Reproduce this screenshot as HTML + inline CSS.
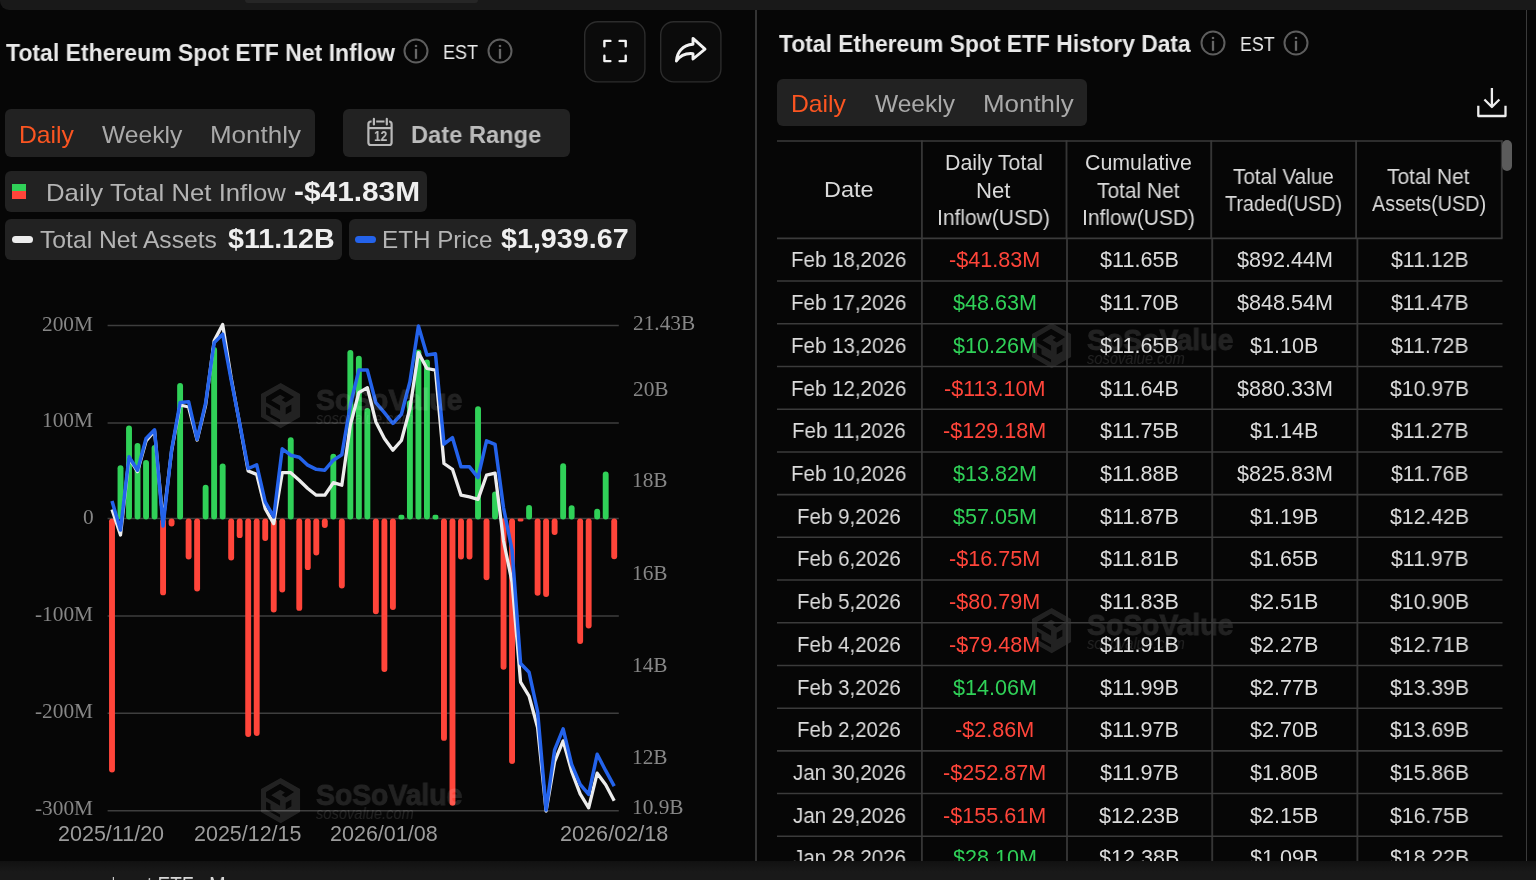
<!DOCTYPE html>
<html lang="en"><head><meta charset="utf-8"><title>Total Ethereum Spot ETF Net Inflow</title>
<style>
html,body{margin:0;padding:0}
body{width:1536px;height:880px;overflow:hidden;position:relative;background:#060606;font-family:'Liberation Sans', sans-serif}
.abs{position:absolute}
.t{position:absolute;white-space:pre;transform-origin:0 50%;display:block;will-change:transform}
.chip{background:#222;border-radius:6px}
.btn{width:57.6px;height:57.6px;border:2px solid #242424;border-radius:13px;background:#0c0c0c}
.wm{position:absolute;opacity:.115;width:210px;height:48px;pointer-events:none}
table{display:block;position:absolute;left:0;top:0;width:750px;height:740px;border-collapse:separate}
thead,tbody{display:block}
tr{display:block;position:absolute;left:0;width:750px}
thead tr{top:0}
th,td{display:block;position:absolute;box-sizing:border-box;padding:0;font-weight:400}
</style></head>
<body>
<div class="abs" style="left:0;top:0;width:1536px;height:10px;background:#191919;border-radius:0 0 0 9px"></div>
<div class="abs" style="left:245px;top:0;width:233px;height:3px;background:#262626;border-radius:0 0 4px 4px"></div>
<div class="abs" id="bottombar" style="left:0;top:861px;width:1536px;height:19px;background:linear-gradient(#111,#191919 11px);overflow:hidden"><span class="t" style="left:112.37px;top:12.98px;font:normal 400 24px/24px 'Liberation Sans', sans-serif;color:#d8d8d8;transform:scaleX(0.5333);">l</span><span class="t" style="left:147.30px;top:12.98px;font:normal 400 24px/24px 'Liberation Sans', sans-serif;color:#d8d8d8;transform:scaleX(0.7931);">t ETF</span><span class="t" style="left:209.37px;top:12.98px;font:normal 400 24px/24px 'Liberation Sans', sans-serif;color:#d8d8d8;transform:scaleX(0.8333);">M</span></div>
<div class="abs" style="left:755.2px;top:10px;width:1.6px;height:851px;background:#333"></div>
<div class="abs" style="left:1525.9px;top:10px;width:1.6px;height:851px;background:#3a3a3a"></div>
<section id="chart-panel">
<span class="t" style="left:5.50px;top:40.98px;font:normal 700 24px/24px 'Liberation Sans', sans-serif;color:#e9e9e9;transform:scaleX(0.9576);">Total Ethereum Spot ETF Net Inflow</span>
<svg class="abs" style="left:402.00px;top:37.10px" width="28" height="28" viewBox="-14 -14 28 28"><circle cx="0" cy="0" r="11.5" fill="none" stroke="#5e5e5e" stroke-width="2"/><rect x="-1.15" y="-6.1" width="2.3" height="2.2" fill="#676767"/><rect x="-1.15" y="-2.2" width="2.3" height="10" fill="#676767"/></svg>
<span class="t" style="left:443.40px;top:42.07px;font:normal 400 20px/20px 'Liberation Sans', sans-serif;color:#ececec;transform:scaleX(0.8997);">EST</span>
<svg class="abs" style="left:485.70px;top:37.10px" width="28" height="28" viewBox="-14 -14 28 28"><circle cx="0" cy="0" r="11.5" fill="none" stroke="#5e5e5e" stroke-width="2"/><rect x="-1.15" y="-6.1" width="2.3" height="2.2" fill="#676767"/><rect x="-1.15" y="-2.2" width="2.3" height="10" fill="#676767"/></svg>
<svg class="abs" style="left:583.4px;top:19.6px" width="64" height="64" viewBox="-1 -1 64 64"><rect x="0.7" y="0.7" width="60.2" height="60.2" rx="13" fill="#0b0b0b" stroke="#2c2c2c" stroke-width="1.4"/></svg>
<svg class="abs" style="left:659.0px;top:19.6px" width="64" height="64" viewBox="-1 -1 64 64"><rect x="0.7" y="0.7" width="60.2" height="60.2" rx="13" fill="#0b0b0b" stroke="#2c2c2c" stroke-width="1.4"/></svg>
<svg class="abs" style="left:601px;top:37px" width="28" height="28" viewBox="0 0 28 28" fill="none" stroke="#f2f2f2" stroke-width="2.4" stroke-linecap="round" stroke-linejoin="round"><path d="M3.4 9.2 V3.9 H9.4 M18.6 3.9 H24.7 V9.2 M24.7 18.8 V24.1 H18.6 M9.4 24.1 H3.4 V18.8"/></svg>
<svg class="abs" style="left:672px;top:35px" width="36" height="30" viewBox="0 0 36 30" fill="none" stroke="#f2f2f2" stroke-width="2.9" stroke-linejoin="round" stroke-linecap="round"><path d="M21 3.4 L33 14.2 L21 24 V18.6 C13 17.9 8 20.6 4.4 26 C5 17.6 10.2 10 21 9.2 Z"/></svg>
<div class="abs chip" style="left:5px;top:109.4px;width:310px;height:47.6px"></div>
<span class="t" style="left:18.77px;top:122.98px;font:normal 400 24px/24px 'Liberation Sans', sans-serif;color:#fb5521;transform:scaleX(1.0297);">Daily</span>
<span class="t" style="left:102.20px;top:122.98px;font:normal 400 24px/24px 'Liberation Sans', sans-serif;color:#a9a9a9;transform:scaleX(1.0275);">Weekly</span>
<span class="t" style="left:210.42px;top:122.98px;font:normal 400 24px/24px 'Liberation Sans', sans-serif;color:#a9a9a9;transform:scaleX(1.0815);">Monthly</span>
<div class="abs chip" style="left:342.5px;top:109.4px;width:227.5px;height:47.6px"></div>
<svg class="abs" style="left:360px;top:112px" width="40" height="40" viewBox="360 112 40 40" fill="none" stroke="#b9b9b9" stroke-width="2.2"><rect x="368.4" y="121.5" width="23.2" height="23.5" rx="2.6"/><path d="M368.4 128.1 H391.6"/><path d="M373.9 118 V125.2 M386.8 118 V125.2" stroke="#222" stroke-width="4.6"/><path d="M373.9 118.9 V124.4 M386.8 118.9 V124.4" stroke-linecap="round"/></svg>
<span class="t" style="left:373.70px;top:129.29px;font:normal 700 14.9px/14.9px 'Liberation Sans', sans-serif;color:#bdbdbd;transform:scaleX(0.7985);">12</span>
<span class="t" style="left:411.11px;top:122.98px;font:normal 700 24px/24px 'Liberation Sans', sans-serif;color:#bcbcbc;transform:scaleX(0.9863);">Date Range</span>
<div class="abs chip" style="left:4.8px;top:170.8px;width:422px;height:40.8px"></div>
<div class="abs" style="left:11.8px;top:184.3px;width:14.3px;height:7.2px;background:#30d158"></div>
<div class="abs" style="left:11.8px;top:191.4px;width:14.3px;height:7.3px;background:#ff453a"></div>
<span class="t" style="left:45.73px;top:181.18px;font:normal 400 24px/24px 'Liberation Sans', sans-serif;color:#b4b4b4;transform:scaleX(1.0726);">Daily Total Net Inflow</span>
<span class="t" style="left:294.33px;top:177.90px;font:normal 700 28px/28px 'Liberation Sans', sans-serif;color:#efefef;transform:scaleX(1.0658);">-$41.83M</span>
<div class="abs chip" style="left:4.8px;top:219.1px;width:336.8px;height:40.8px"></div>
<div class="abs" style="left:11.8px;top:235.6px;width:21px;height:7.5px;border-radius:4px;background:#ededed"></div>
<span class="t" style="left:40.40px;top:227.78px;font:normal 400 24px/24px 'Liberation Sans', sans-serif;color:#b4b4b4;transform:scaleX(1.0282);">Total Net Assets</span>
<span class="t" style="left:227.70px;top:225.40px;font:normal 700 28px/28px 'Liberation Sans', sans-serif;color:#efefef;transform:scaleX(1.0214);">$11.12B</span>
<div class="abs chip" style="left:348.5px;top:219.1px;width:287.5px;height:40.8px"></div>
<div class="abs" style="left:355.3px;top:235.6px;width:20.5px;height:7.5px;border-radius:4px;background:#2463eb"></div>
<span class="t" style="left:381.99px;top:227.78px;font:normal 400 24px/24px 'Liberation Sans', sans-serif;color:#b4b4b4;transform:scaleX(1.0093);">ETH Price</span>
<span class="t" style="left:501.00px;top:225.40px;font:normal 700 28px/28px 'Liberation Sans', sans-serif;color:#efefef;transform:scaleX(1.0243);">$1,939.67</span>
<svg class="abs" style="left:0;top:280px" width="756" height="581" viewBox="0 280 756 581">
<line x1="107.6" x2="618.8" y1="325.50" y2="325.50" stroke="#3e3e3e" stroke-width="1.5"/>
<line x1="107.6" x2="618.8" y1="422.95" y2="422.95" stroke="#3e3e3e" stroke-width="1.5"/>
<line x1="107.6" x2="618.8" y1="518.60" y2="518.60" stroke="#3e3e3e" stroke-width="1.5"/>
<line x1="107.6" x2="618.8" y1="615.95" y2="615.95" stroke="#3e3e3e" stroke-width="1.5"/>
<line x1="107.6" x2="618.8" y1="713.20" y2="713.20" stroke="#3e3e3e" stroke-width="1.5"/>
<line x1="107.6" x2="618.8" y1="810.85" y2="810.85" stroke="#3e3e3e" stroke-width="1.5"/>
<rect x="109.05" y="518.40" width="5.9" height="254.05" rx="2.95" fill="#ff453a"/>
<rect x="117.56" y="465.35" width="5.9" height="54.15" rx="2.95" fill="#30d158"/>
<rect x="126.07" y="425.58" width="5.9" height="93.92" rx="2.95" fill="#30d158"/>
<rect x="134.59" y="443.04" width="5.9" height="76.46" rx="2.95" fill="#30d158"/>
<rect x="143.10" y="460.02" width="5.9" height="59.48" rx="2.95" fill="#30d158"/>
<rect x="151.61" y="444.98" width="5.9" height="74.52" rx="2.95" fill="#30d158"/>
<rect x="160.12" y="518.40" width="5.9" height="76.93" rx="2.95" fill="#ff453a"/>
<rect x="168.63" y="518.40" width="5.9" height="8.06" rx="2.95" fill="#ff453a"/>
<rect x="177.15" y="382.90" width="5.9" height="136.60" rx="2.95" fill="#30d158"/>
<rect x="185.66" y="518.40" width="5.9" height="41.04" rx="2.95" fill="#ff453a"/>
<rect x="194.17" y="518.40" width="5.9" height="73.05" rx="2.95" fill="#ff453a"/>
<rect x="202.68" y="484.75" width="5.9" height="34.75" rx="2.95" fill="#30d158"/>
<rect x="211.19" y="347.01" width="5.9" height="172.49" rx="2.95" fill="#30d158"/>
<rect x="219.71" y="463.41" width="5.9" height="56.09" rx="2.95" fill="#30d158"/>
<rect x="228.22" y="518.40" width="5.9" height="42.01" rx="2.95" fill="#ff453a"/>
<rect x="236.73" y="518.40" width="5.9" height="19.70" rx="2.95" fill="#ff453a"/>
<rect x="245.24" y="518.40" width="5.9" height="218.55" rx="2.95" fill="#ff453a"/>
<rect x="253.75" y="518.40" width="5.9" height="217.58" rx="2.95" fill="#ff453a"/>
<rect x="262.27" y="518.40" width="5.9" height="22.61" rx="2.95" fill="#ff453a"/>
<rect x="270.78" y="518.40" width="5.9" height="94.00" rx="2.95" fill="#ff453a"/>
<rect x="279.29" y="518.40" width="5.9" height="74.02" rx="2.95" fill="#ff453a"/>
<rect x="287.80" y="437.22" width="5.9" height="82.28" rx="2.95" fill="#30d158"/>
<rect x="296.31" y="518.40" width="5.9" height="92.45" rx="2.95" fill="#ff453a"/>
<rect x="304.83" y="518.40" width="5.9" height="51.71" rx="2.95" fill="#ff453a"/>
<rect x="313.34" y="518.40" width="5.9" height="37.16" rx="2.95" fill="#ff453a"/>
<rect x="321.85" y="518.40" width="5.9" height="9.52" rx="2.95" fill="#ff453a"/>
<rect x="330.36" y="453.71" width="5.9" height="65.79" rx="2.95" fill="#30d158"/>
<rect x="338.87" y="518.40" width="5.9" height="70.14" rx="2.95" fill="#ff453a"/>
<rect x="347.39" y="349.92" width="5.9" height="169.58" rx="2.95" fill="#30d158"/>
<rect x="355.90" y="355.74" width="5.9" height="163.76" rx="2.95" fill="#30d158"/>
<rect x="364.41" y="408.12" width="5.9" height="111.38" rx="2.95" fill="#30d158"/>
<rect x="372.92" y="518.40" width="5.9" height="95.84" rx="2.95" fill="#ff453a"/>
<rect x="381.43" y="518.40" width="5.9" height="153.56" rx="2.95" fill="#ff453a"/>
<rect x="389.95" y="518.40" width="5.9" height="91.48" rx="2.95" fill="#ff453a"/>
<rect x="398.46" y="514.82" width="5.9" height="4.68" rx="1.94" fill="#30d158"/>
<rect x="406.97" y="400.36" width="5.9" height="119.14" rx="2.95" fill="#30d158"/>
<rect x="415.48" y="349.44" width="5.9" height="170.07" rx="2.95" fill="#30d158"/>
<rect x="423.99" y="359.62" width="5.9" height="159.88" rx="2.95" fill="#30d158"/>
<rect x="432.51" y="514.82" width="5.9" height="4.68" rx="1.94" fill="#30d158"/>
<rect x="441.02" y="518.40" width="5.9" height="222.43" rx="2.95" fill="#ff453a"/>
<rect x="449.53" y="518.40" width="5.9" height="287.42" rx="2.95" fill="#ff453a"/>
<rect x="458.04" y="518.40" width="5.9" height="41.04" rx="2.95" fill="#ff453a"/>
<rect x="466.55" y="518.40" width="5.9" height="41.04" rx="2.95" fill="#ff453a"/>
<rect x="475.07" y="406.18" width="5.9" height="113.32" rx="2.95" fill="#30d158"/>
<rect x="483.58" y="518.40" width="5.9" height="61.89" rx="2.95" fill="#ff453a"/>
<rect x="492.09" y="491.44" width="5.9" height="28.06" rx="2.95" fill="#30d158"/>
<rect x="500.60" y="518.40" width="5.9" height="151.24" rx="2.95" fill="#ff453a"/>
<rect x="509.11" y="518.40" width="5.9" height="245.58" rx="2.95" fill="#ff453a"/>
<rect x="517.63" y="518.40" width="5.9" height="3.07" rx="1.39" fill="#ff453a"/>
<rect x="526.14" y="505.06" width="5.9" height="14.44" rx="2.95" fill="#30d158"/>
<rect x="534.65" y="518.40" width="5.9" height="77.40" rx="2.95" fill="#ff453a"/>
<rect x="543.16" y="518.40" width="5.9" height="78.67" rx="2.95" fill="#ff453a"/>
<rect x="551.67" y="518.40" width="5.9" height="16.55" rx="2.95" fill="#ff453a"/>
<rect x="560.19" y="463.36" width="5.9" height="56.14" rx="2.95" fill="#30d158"/>
<rect x="568.70" y="505.29" width="5.9" height="14.21" rx="2.95" fill="#30d158"/>
<rect x="577.21" y="518.40" width="5.9" height="125.60" rx="2.95" fill="#ff453a"/>
<rect x="585.72" y="518.40" width="5.9" height="110.01" rx="2.95" fill="#ff453a"/>
<rect x="594.23" y="508.75" width="5.9" height="10.75" rx="2.95" fill="#30d158"/>
<rect x="602.75" y="471.53" width="5.9" height="47.97" rx="2.95" fill="#30d158"/>
<rect x="611.26" y="518.40" width="5.9" height="40.88" rx="2.95" fill="#ff453a"/>
<polyline points="112.00,509.4 120.51,535.0 129.02,458.0 137.54,471.5 146.05,441.0 154.56,431.0 163.07,522.0 171.58,451.0 180.10,405.0 188.61,407.0 197.12,440.0 205.63,405.0 214.14,340.7 222.66,324.4 231.17,378.0 239.68,424.0 248.19,471.0 256.70,474.4 265.22,508.6 273.73,523.6 282.24,472.7 290.75,472.7 299.26,480.2 307.78,488.5 316.29,495.2 324.80,495.2 333.31,482.7 341.82,485.2 350.34,425.0 358.85,392.7 367.36,387.7 375.87,421.9 384.38,438.6 392.90,450.2 401.41,440.5 409.92,408.5 418.43,352.6 426.94,368.5 435.46,370.1 443.97,463.5 452.48,469.3 460.99,495.2 469.50,496.9 478.02,499.4 486.53,475.2 495.04,473.2 503.55,541.0 512.06,582.1 520.58,682.2 529.09,696.1 537.60,727.5 546.11,811.0 554.62,761.6 563.14,740.9 571.65,771.3 580.16,793.9 588.67,807.8 597.18,773.2 605.70,784.7 614.21,800.8" fill="none" stroke="#ececec" stroke-width="3.3" stroke-linejoin="round"/>
<polyline points="112.00,501.1 120.51,530.0 129.02,456.8 137.54,470.2 146.05,438.5 154.56,429.8 163.07,526.0 171.58,450.0 180.10,402.5 188.61,401.7 197.12,439.3 205.63,403.0 214.14,342.7 222.66,334.2 231.17,380.0 239.68,423.4 248.19,468.5 256.70,464.8 265.22,501.9 273.73,516.9 282.24,448.8 290.75,455.2 299.26,457.2 307.78,465.2 316.29,469.3 324.80,470.2 333.31,460.2 341.82,454.8 350.34,405.0 358.85,370.1 367.36,370.1 375.87,402.7 384.38,412.7 392.90,423.5 401.41,414.3 409.92,381.8 418.43,325.9 426.94,355.1 435.46,353.8 443.97,444.0 452.48,437.7 460.99,466.8 469.50,466.8 478.02,477.7 486.53,440.9 495.04,444.3 503.55,508.0 512.06,550.0 520.58,663.5 529.09,672.3 537.60,711.5 546.11,809.9 554.62,749.8 563.14,728.8 571.65,764.4 580.16,784.4 588.67,794.4 597.18,754.3 605.70,770.7 614.21,786.2" fill="none" stroke="#2463eb" stroke-width="3.5" stroke-linejoin="round"/>
</svg>
<span class="t" style="left:42.21px;top:313.54px;font:normal 400 21.33px/21.33px 'Liberation Serif', serif;color:#868686">200M</span>
<span class="t" style="left:42.21px;top:410.39px;font:normal 400 21.33px/21.33px 'Liberation Serif', serif;color:#868686">100M</span>
<span class="t" style="left:83.20px;top:507.24px;font:normal 400 21.33px/21.33px 'Liberation Serif', serif;color:#868686">0</span>
<span class="t" style="left:35.11px;top:604.09px;font:normal 400 21.33px/21.33px 'Liberation Serif', serif;color:#868686">-100M</span>
<span class="t" style="left:35.11px;top:700.94px;font:normal 400 21.33px/21.33px 'Liberation Serif', serif;color:#868686">-200M</span>
<span class="t" style="left:35.11px;top:797.79px;font:normal 400 21.33px/21.33px 'Liberation Serif', serif;color:#868686">-300M</span>
<span class="t" style="left:632.50px;top:312.74px;font:normal 400 21.33px/21.33px 'Liberation Serif', serif;color:#868686">21.43B</span>
<span class="t" style="left:632.50px;top:378.54px;font:normal 400 21.33px/21.33px 'Liberation Serif', serif;color:#868686">20B</span>
<span class="t" style="left:631.50px;top:470.34px;font:normal 400 21.33px/21.33px 'Liberation Serif', serif;color:#868686">18B</span>
<span class="t" style="left:631.50px;top:562.94px;font:normal 400 21.33px/21.33px 'Liberation Serif', serif;color:#868686">16B</span>
<span class="t" style="left:631.50px;top:654.54px;font:normal 400 21.33px/21.33px 'Liberation Serif', serif;color:#868686">14B</span>
<span class="t" style="left:631.50px;top:746.74px;font:normal 400 21.33px/21.33px 'Liberation Serif', serif;color:#868686">12B</span>
<span class="t" style="left:631.50px;top:797.44px;font:normal 400 21.33px/21.33px 'Liberation Serif', serif;color:#868686">10.9B</span>
<span class="t" style="left:57.99px;top:824.34px;font:normal 400 21.33px/21.33px 'Liberation Sans', sans-serif;color:#9c9c9c;transform:scaleX(1.0086);">2025/11/20</span>
<span class="t" style="left:193.99px;top:824.34px;font:normal 400 21.33px/21.33px 'Liberation Sans', sans-serif;color:#9c9c9c;transform:scaleX(1.0068);">2025/12/15</span>
<span class="t" style="left:330.09px;top:824.34px;font:normal 400 21.33px/21.33px 'Liberation Sans', sans-serif;color:#9c9c9c;transform:scaleX(1.0087);">2026/01/08</span>
<span class="t" style="left:559.79px;top:824.34px;font:normal 400 21.33px/21.33px 'Liberation Sans', sans-serif;color:#9c9c9c;transform:scaleX(1.0145);">2026/02/18</span>
<div class="wm" style="left:260.7px;top:383px"><svg width="40" height="46" viewBox="0 0 40 46"><path fill="#fff" fill-rule="evenodd" d="M19.7 0 L39.1 11.1 V34.1 L19.7 45.2 L0 34.1 V11.1 Z M19.1 5.7 L33.1 14 L24.8 19.4 L20.7 16.9 L23.9 14.6 L19.1 11.8 L10.2 17.2 L19.1 22.6 V27.7 L5.1 19.4 V14 Z M5.1 23.6 L9.5 26.1 V31.2 L19.1 36.6 V39.5 L5.1 31.5 Z M24.7 24.8 L30.4 21.6 V28.3 L24.7 31.5 Z"/></svg><span class="t" style="left:54.90px;top:1.93px;font:normal 700 29.5px/29.5px 'Liberation Sans', sans-serif;color:#fff;transform:scaleX(0.9601);-webkit-text-stroke:0.9px #fff;">SoSoValue</span><span class="t" style="left:54.90px;top:28.36px;font:italic 400 16px/16px 'Liberation Sans', sans-serif;color:#fff;transform:scaleX(0.9155);">sosovalue.com</span></div>
<div class="wm" style="left:260.7px;top:778px"><svg width="40" height="46" viewBox="0 0 40 46"><path fill="#fff" fill-rule="evenodd" d="M19.7 0 L39.1 11.1 V34.1 L19.7 45.2 L0 34.1 V11.1 Z M19.1 5.7 L33.1 14 L24.8 19.4 L20.7 16.9 L23.9 14.6 L19.1 11.8 L10.2 17.2 L19.1 22.6 V27.7 L5.1 19.4 V14 Z M5.1 23.6 L9.5 26.1 V31.2 L19.1 36.6 V39.5 L5.1 31.5 Z M24.7 24.8 L30.4 21.6 V28.3 L24.7 31.5 Z"/></svg><span class="t" style="left:54.90px;top:1.93px;font:normal 700 29.5px/29.5px 'Liberation Sans', sans-serif;color:#fff;transform:scaleX(0.9601);-webkit-text-stroke:0.9px #fff;">SoSoValue</span><span class="t" style="left:54.90px;top:28.36px;font:italic 400 16px/16px 'Liberation Sans', sans-serif;color:#fff;transform:scaleX(0.9155);">sosovalue.com</span></div>
</section>
<section id="table-panel">
<span class="t" style="left:778.70px;top:31.78px;font:normal 700 24px/24px 'Liberation Sans', sans-serif;color:#e9e9e9;transform:scaleX(0.9509);">Total Ethereum Spot ETF History Data</span>
<svg class="abs" style="left:1199.00px;top:28.70px" width="28" height="28" viewBox="-14 -14 28 28"><circle cx="0" cy="0" r="11.5" fill="none" stroke="#5e5e5e" stroke-width="2"/><rect x="-1.15" y="-6.1" width="2.3" height="2.2" fill="#676767"/><rect x="-1.15" y="-2.2" width="2.3" height="10" fill="#676767"/></svg>
<span class="t" style="left:1240.35px;top:32.92px;font:normal 400 21px/21px 'Liberation Sans', sans-serif;color:#ececec;transform:scaleX(0.8472);">EST</span>
<svg class="abs" style="left:1281.80px;top:28.70px" width="28" height="28" viewBox="-14 -14 28 28"><circle cx="0" cy="0" r="11.5" fill="none" stroke="#5e5e5e" stroke-width="2"/><rect x="-1.15" y="-6.1" width="2.3" height="2.2" fill="#676767"/><rect x="-1.15" y="-2.2" width="2.3" height="10" fill="#676767"/></svg>
<div class="abs chip" style="left:777.4px;top:78.8px;width:310px;height:47.6px"></div>
<span class="t" style="left:791.27px;top:91.68px;font:normal 400 24px/24px 'Liberation Sans', sans-serif;color:#fb5521;transform:scaleX(1.0297);">Daily</span>
<span class="t" style="left:875.10px;top:91.68px;font:normal 400 24px/24px 'Liberation Sans', sans-serif;color:#a9a9a9;transform:scaleX(1.0211);">Weekly</span>
<span class="t" style="left:982.92px;top:91.68px;font:normal 400 24px/24px 'Liberation Sans', sans-serif;color:#a9a9a9;transform:scaleX(1.0791);">Monthly</span>
<svg class="abs" style="left:1474px;top:85px" width="36" height="36" viewBox="0 0 36 36" fill="none" stroke="#ececec" stroke-width="2.3" stroke-linejoin="round"><path d="M4.3 20.7 V31 H31.5 V20.7 M17.9 3 V21.5 M10.4 14.5 L17.9 22 L25.4 14.5"/></svg>
<div class="wm" style="left:1031.9px;top:323px"><svg width="40" height="46" viewBox="0 0 40 46"><path fill="#fff" fill-rule="evenodd" d="M19.7 0 L39.1 11.1 V34.1 L19.7 45.2 L0 34.1 V11.1 Z M19.1 5.7 L33.1 14 L24.8 19.4 L20.7 16.9 L23.9 14.6 L19.1 11.8 L10.2 17.2 L19.1 22.6 V27.7 L5.1 19.4 V14 Z M5.1 23.6 L9.5 26.1 V31.2 L19.1 36.6 V39.5 L5.1 31.5 Z M24.7 24.8 L30.4 21.6 V28.3 L24.7 31.5 Z"/></svg><span class="t" style="left:54.90px;top:1.93px;font:normal 700 29.5px/29.5px 'Liberation Sans', sans-serif;color:#fff;transform:scaleX(0.9601);-webkit-text-stroke:0.9px #fff;">SoSoValue</span><span class="t" style="left:54.90px;top:28.36px;font:italic 400 16px/16px 'Liberation Sans', sans-serif;color:#fff;transform:scaleX(0.9155);">sosovalue.com</span></div>
<div class="wm" style="left:1031.9px;top:608px"><svg width="40" height="46" viewBox="0 0 40 46"><path fill="#fff" fill-rule="evenodd" d="M19.7 0 L39.1 11.1 V34.1 L19.7 45.2 L0 34.1 V11.1 Z M19.1 5.7 L33.1 14 L24.8 19.4 L20.7 16.9 L23.9 14.6 L19.1 11.8 L10.2 17.2 L19.1 22.6 V27.7 L5.1 19.4 V14 Z M5.1 23.6 L9.5 26.1 V31.2 L19.1 36.6 V39.5 L5.1 31.5 Z M24.7 24.8 L30.4 21.6 V28.3 L24.7 31.5 Z"/></svg><span class="t" style="left:54.90px;top:1.93px;font:normal 700 29.5px/29.5px 'Liberation Sans', sans-serif;color:#fff;transform:scaleX(0.9601);-webkit-text-stroke:0.9px #fff;">SoSoValue</span><span class="t" style="left:54.90px;top:28.36px;font:italic 400 16px/16px 'Liberation Sans', sans-serif;color:#fff;transform:scaleX(0.9155);">sosovalue.com</span></div>
<div class="abs" id="tblclip" style="left:770px;top:130px;width:750px;height:731px;overflow:hidden">
<table>
<thead><tr>
<th style="left:7.00px;top:10.30px;width:144.90px;height:98.75px;">
<span class="t" style="left:47.25px;top:39.84px;font:normal 400 21.33px/21.33px 'Liberation Sans', sans-serif;color:#dadada;transform:scaleX(1.1021);">Date</span>
</th>
<th style="left:151.90px;top:10.30px;width:144.60px;height:98.75px;">
<span class="t" style="left:22.75px;top:12.74px;font:normal 400 21.33px/21.33px 'Liberation Sans', sans-serif;color:#dadada;transform:scaleX(0.9985);">Daily Total</span>
<span class="t" style="left:54.21px;top:40.24px;font:normal 400 21.33px/21.33px 'Liberation Sans', sans-serif;color:#dadada;transform:scaleX(1.0383);">Net</span>
<span class="t" style="left:15.52px;top:67.24px;font:normal 400 21.33px/21.33px 'Liberation Sans', sans-serif;color:#dadada;transform:scaleX(0.9836);">Inflow(USD)</span>
</th>
<th style="left:296.50px;top:10.30px;width:144.70px;height:98.75px;">
<span class="t" style="left:18.55px;top:12.74px;font:normal 400 21.33px/21.33px 'Liberation Sans', sans-serif;color:#dadada;transform:scaleX(1.0017);">Cumulative</span>
<span class="t" style="left:30.80px;top:40.24px;font:normal 400 21.33px/21.33px 'Liberation Sans', sans-serif;color:#dadada;transform:scaleX(0.9793);">Total Net</span>
<span class="t" style="left:15.57px;top:67.24px;font:normal 400 21.33px/21.33px 'Liberation Sans', sans-serif;color:#dadada;transform:scaleX(0.9836);">Inflow(USD)</span>
</th>
<th style="left:441.20px;top:10.30px;width:144.90px;height:98.75px;">
<span class="t" style="left:22.15px;top:26.24px;font:normal 400 21.33px/21.33px 'Liberation Sans', sans-serif;color:#dadada;transform:scaleX(0.9701);">Total Value</span>
<span class="t" style="left:14.15px;top:53.84px;font:normal 400 21.33px/21.33px 'Liberation Sans', sans-serif;color:#dadada;transform:scaleX(0.9286);">Traded(USD)</span>
</th>
<th style="left:586.10px;top:10.30px;width:145.70px;height:98.75px;">
<span class="t" style="left:31.30px;top:26.24px;font:normal 400 21.33px/21.33px 'Liberation Sans', sans-serif;color:#dadada;transform:scaleX(0.9793);">Total Net</span>
<span class="t" style="left:16.05px;top:53.84px;font:normal 400 21.33px/21.33px 'Liberation Sans', sans-serif;color:#dadada;transform:scaleX(0.9252);">Assets(USD)</span>
</th>
</tr></thead><tbody>
<tr style="top:108.35px">
<td style="left:7.00px;top:0;width:144.90px;height:42.71px;">
<span class="t" style="left:14.47px;top:12.14px;font:normal 400 21.33px/21.33px 'Liberation Sans', sans-serif;color:#dcdcdc;transform:scaleX(0.9620);">Feb 18,2026</span>
</td>
<td style="left:151.90px;top:0;width:145.10px;height:42.71px;">
<span class="t" style="left:27.05px;top:12.14px;font:normal 400 21.33px/21.33px 'Liberation Sans', sans-serif;color:#ff453a;transform:scaleX(1.0120);">-$41.83M</span>
</td>
<td style="left:297.00px;top:0;width:145.20px;height:42.71px;">
<span class="t" style="left:33.01px;top:12.14px;font:normal 400 21.33px/21.33px 'Liberation Sans', sans-serif;color:#dcdcdc;transform:scaleX(1.0120);">$11.65B</span>
</td>
<td style="left:442.20px;top:0;width:145.20px;height:42.71px;">
<span class="t" style="left:24.69px;top:12.14px;font:normal 400 21.33px/21.33px 'Liberation Sans', sans-serif;color:#dcdcdc;transform:scaleX(1.0120);">$892.44M</span>
</td>
<td style="left:587.40px;top:0;width:144.60px;height:42.71px;">
<span class="t" style="left:33.37px;top:12.14px;font:normal 400 21.33px/21.33px 'Liberation Sans', sans-serif;color:#dcdcdc;transform:scaleX(0.9950);">$11.12B</span>
</td>
</tr>
<tr style="top:151.06px">
<td style="left:7.00px;top:0;width:144.90px;height:42.71px;">
<span class="t" style="left:14.47px;top:12.14px;font:normal 400 21.33px/21.33px 'Liberation Sans', sans-serif;color:#dcdcdc;transform:scaleX(0.9620);">Feb 17,2026</span>
</td>
<td style="left:151.90px;top:0;width:145.10px;height:42.71px;">
<span class="t" style="left:30.64px;top:12.14px;font:normal 400 21.33px/21.33px 'Liberation Sans', sans-serif;color:#30d158;transform:scaleX(1.0120);">$48.63M</span>
</td>
<td style="left:297.00px;top:0;width:145.20px;height:42.71px;">
<span class="t" style="left:33.01px;top:12.14px;font:normal 400 21.33px/21.33px 'Liberation Sans', sans-serif;color:#dcdcdc;transform:scaleX(1.0120);">$11.70B</span>
</td>
<td style="left:442.20px;top:0;width:145.20px;height:42.71px;">
<span class="t" style="left:24.69px;top:12.14px;font:normal 400 21.33px/21.33px 'Liberation Sans', sans-serif;color:#dcdcdc;transform:scaleX(1.0120);">$848.54M</span>
</td>
<td style="left:587.40px;top:0;width:144.60px;height:42.71px;">
<span class="t" style="left:33.37px;top:12.14px;font:normal 400 21.33px/21.33px 'Liberation Sans', sans-serif;color:#dcdcdc;transform:scaleX(0.9950);">$11.47B</span>
</td>
</tr>
<tr style="top:193.77px">
<td style="left:7.00px;top:0;width:144.90px;height:42.71px;">
<span class="t" style="left:14.47px;top:12.14px;font:normal 400 21.33px/21.33px 'Liberation Sans', sans-serif;color:#dcdcdc;transform:scaleX(0.9620);">Feb 13,2026</span>
</td>
<td style="left:151.90px;top:0;width:145.10px;height:42.71px;">
<span class="t" style="left:30.64px;top:12.14px;font:normal 400 21.33px/21.33px 'Liberation Sans', sans-serif;color:#30d158;transform:scaleX(1.0120);">$10.26M</span>
</td>
<td style="left:297.00px;top:0;width:145.20px;height:42.71px;">
<span class="t" style="left:33.01px;top:12.14px;font:normal 400 21.33px/21.33px 'Liberation Sans', sans-serif;color:#dcdcdc;transform:scaleX(1.0120);">$11.65B</span>
</td>
<td style="left:442.20px;top:0;width:145.20px;height:42.71px;">
<span class="t" style="left:38.21px;top:12.14px;font:normal 400 21.33px/21.33px 'Liberation Sans', sans-serif;color:#dcdcdc;transform:scaleX(1.0120);">$1.10B</span>
</td>
<td style="left:587.40px;top:0;width:144.60px;height:42.71px;">
<span class="t" style="left:33.37px;top:12.14px;font:normal 400 21.33px/21.33px 'Liberation Sans', sans-serif;color:#dcdcdc;transform:scaleX(0.9950);">$11.72B</span>
</td>
</tr>
<tr style="top:236.48px">
<td style="left:7.00px;top:0;width:144.90px;height:42.71px;">
<span class="t" style="left:14.47px;top:12.14px;font:normal 400 21.33px/21.33px 'Liberation Sans', sans-serif;color:#dcdcdc;transform:scaleX(0.9620);">Feb 12,2026</span>
</td>
<td style="left:151.90px;top:0;width:145.10px;height:42.71px;">
<span class="t" style="left:21.84px;top:12.14px;font:normal 400 21.33px/21.33px 'Liberation Sans', sans-serif;color:#ff453a;transform:scaleX(1.0120);">-$113.10M</span>
</td>
<td style="left:297.00px;top:0;width:145.20px;height:42.71px;">
<span class="t" style="left:33.01px;top:12.14px;font:normal 400 21.33px/21.33px 'Liberation Sans', sans-serif;color:#dcdcdc;transform:scaleX(1.0120);">$11.64B</span>
</td>
<td style="left:442.20px;top:0;width:145.20px;height:42.71px;">
<span class="t" style="left:24.69px;top:12.14px;font:normal 400 21.33px/21.33px 'Liberation Sans', sans-serif;color:#dcdcdc;transform:scaleX(1.0120);">$880.33M</span>
</td>
<td style="left:587.40px;top:0;width:144.60px;height:42.71px;">
<span class="t" style="left:32.58px;top:12.14px;font:normal 400 21.33px/21.33px 'Liberation Sans', sans-serif;color:#dcdcdc;transform:scaleX(0.9950);">$10.97B</span>
</td>
</tr>
<tr style="top:279.19px">
<td style="left:7.00px;top:0;width:144.90px;height:42.71px;">
<span class="t" style="left:15.23px;top:12.14px;font:normal 400 21.33px/21.33px 'Liberation Sans', sans-serif;color:#dcdcdc;transform:scaleX(0.9620);">Feb 11,2026</span>
</td>
<td style="left:151.90px;top:0;width:145.10px;height:42.71px;">
<span class="t" style="left:21.04px;top:12.14px;font:normal 400 21.33px/21.33px 'Liberation Sans', sans-serif;color:#ff453a;transform:scaleX(1.0120);">-$129.18M</span>
</td>
<td style="left:297.00px;top:0;width:145.20px;height:42.71px;">
<span class="t" style="left:33.01px;top:12.14px;font:normal 400 21.33px/21.33px 'Liberation Sans', sans-serif;color:#dcdcdc;transform:scaleX(1.0120);">$11.75B</span>
</td>
<td style="left:442.20px;top:0;width:145.20px;height:42.71px;">
<span class="t" style="left:38.21px;top:12.14px;font:normal 400 21.33px/21.33px 'Liberation Sans', sans-serif;color:#dcdcdc;transform:scaleX(1.0120);">$1.14B</span>
</td>
<td style="left:587.40px;top:0;width:144.60px;height:42.71px;">
<span class="t" style="left:33.37px;top:12.14px;font:normal 400 21.33px/21.33px 'Liberation Sans', sans-serif;color:#dcdcdc;transform:scaleX(0.9950);">$11.27B</span>
</td>
</tr>
<tr style="top:321.90px">
<td style="left:7.00px;top:0;width:144.90px;height:42.71px;">
<span class="t" style="left:14.47px;top:12.14px;font:normal 400 21.33px/21.33px 'Liberation Sans', sans-serif;color:#dcdcdc;transform:scaleX(0.9620);">Feb 10,2026</span>
</td>
<td style="left:151.90px;top:0;width:145.10px;height:42.71px;">
<span class="t" style="left:30.64px;top:12.14px;font:normal 400 21.33px/21.33px 'Liberation Sans', sans-serif;color:#30d158;transform:scaleX(1.0120);">$13.82M</span>
</td>
<td style="left:297.00px;top:0;width:145.20px;height:42.71px;">
<span class="t" style="left:33.01px;top:12.14px;font:normal 400 21.33px/21.33px 'Liberation Sans', sans-serif;color:#dcdcdc;transform:scaleX(1.0120);">$11.88B</span>
</td>
<td style="left:442.20px;top:0;width:145.20px;height:42.71px;">
<span class="t" style="left:24.69px;top:12.14px;font:normal 400 21.33px/21.33px 'Liberation Sans', sans-serif;color:#dcdcdc;transform:scaleX(1.0120);">$825.83M</span>
</td>
<td style="left:587.40px;top:0;width:144.60px;height:42.71px;">
<span class="t" style="left:33.37px;top:12.14px;font:normal 400 21.33px/21.33px 'Liberation Sans', sans-serif;color:#dcdcdc;transform:scaleX(0.9950);">$11.76B</span>
</td>
</tr>
<tr style="top:364.61px">
<td style="left:7.00px;top:0;width:144.90px;height:42.71px;">
<span class="t" style="left:20.18px;top:12.14px;font:normal 400 21.33px/21.33px 'Liberation Sans', sans-serif;color:#dcdcdc;transform:scaleX(0.9620);">Feb 9,2026</span>
</td>
<td style="left:151.90px;top:0;width:145.10px;height:42.71px;">
<span class="t" style="left:30.64px;top:12.14px;font:normal 400 21.33px/21.33px 'Liberation Sans', sans-serif;color:#30d158;transform:scaleX(1.0120);">$57.05M</span>
</td>
<td style="left:297.00px;top:0;width:145.20px;height:42.71px;">
<span class="t" style="left:33.01px;top:12.14px;font:normal 400 21.33px/21.33px 'Liberation Sans', sans-serif;color:#dcdcdc;transform:scaleX(1.0120);">$11.87B</span>
</td>
<td style="left:442.20px;top:0;width:145.20px;height:42.71px;">
<span class="t" style="left:38.21px;top:12.14px;font:normal 400 21.33px/21.33px 'Liberation Sans', sans-serif;color:#dcdcdc;transform:scaleX(1.0120);">$1.19B</span>
</td>
<td style="left:587.40px;top:0;width:144.60px;height:42.71px;">
<span class="t" style="left:32.58px;top:12.14px;font:normal 400 21.33px/21.33px 'Liberation Sans', sans-serif;color:#dcdcdc;transform:scaleX(0.9950);">$12.42B</span>
</td>
</tr>
<tr style="top:407.32px">
<td style="left:7.00px;top:0;width:144.90px;height:42.71px;">
<span class="t" style="left:20.18px;top:12.14px;font:normal 400 21.33px/21.33px 'Liberation Sans', sans-serif;color:#dcdcdc;transform:scaleX(0.9620);">Feb 6,2026</span>
</td>
<td style="left:151.90px;top:0;width:145.10px;height:42.71px;">
<span class="t" style="left:27.05px;top:12.14px;font:normal 400 21.33px/21.33px 'Liberation Sans', sans-serif;color:#ff453a;transform:scaleX(1.0120);">-$16.75M</span>
</td>
<td style="left:297.00px;top:0;width:145.20px;height:42.71px;">
<span class="t" style="left:33.01px;top:12.14px;font:normal 400 21.33px/21.33px 'Liberation Sans', sans-serif;color:#dcdcdc;transform:scaleX(1.0120);">$11.81B</span>
</td>
<td style="left:442.20px;top:0;width:145.20px;height:42.71px;">
<span class="t" style="left:38.21px;top:12.14px;font:normal 400 21.33px/21.33px 'Liberation Sans', sans-serif;color:#dcdcdc;transform:scaleX(1.0120);">$1.65B</span>
</td>
<td style="left:587.40px;top:0;width:144.60px;height:42.71px;">
<span class="t" style="left:33.37px;top:12.14px;font:normal 400 21.33px/21.33px 'Liberation Sans', sans-serif;color:#dcdcdc;transform:scaleX(0.9950);">$11.97B</span>
</td>
</tr>
<tr style="top:450.03px">
<td style="left:7.00px;top:0;width:144.90px;height:42.71px;">
<span class="t" style="left:20.18px;top:12.14px;font:normal 400 21.33px/21.33px 'Liberation Sans', sans-serif;color:#dcdcdc;transform:scaleX(0.9620);">Feb 5,2026</span>
</td>
<td style="left:151.90px;top:0;width:145.10px;height:42.71px;">
<span class="t" style="left:27.05px;top:12.14px;font:normal 400 21.33px/21.33px 'Liberation Sans', sans-serif;color:#ff453a;transform:scaleX(1.0120);">-$80.79M</span>
</td>
<td style="left:297.00px;top:0;width:145.20px;height:42.71px;">
<span class="t" style="left:33.01px;top:12.14px;font:normal 400 21.33px/21.33px 'Liberation Sans', sans-serif;color:#dcdcdc;transform:scaleX(1.0120);">$11.83B</span>
</td>
<td style="left:442.20px;top:0;width:145.20px;height:42.71px;">
<span class="t" style="left:38.21px;top:12.14px;font:normal 400 21.33px/21.33px 'Liberation Sans', sans-serif;color:#dcdcdc;transform:scaleX(1.0120);">$2.51B</span>
</td>
<td style="left:587.40px;top:0;width:144.60px;height:42.71px;">
<span class="t" style="left:32.58px;top:12.14px;font:normal 400 21.33px/21.33px 'Liberation Sans', sans-serif;color:#dcdcdc;transform:scaleX(0.9950);">$10.90B</span>
</td>
</tr>
<tr style="top:492.74px">
<td style="left:7.00px;top:0;width:144.90px;height:42.71px;">
<span class="t" style="left:20.18px;top:12.14px;font:normal 400 21.33px/21.33px 'Liberation Sans', sans-serif;color:#dcdcdc;transform:scaleX(0.9620);">Feb 4,2026</span>
</td>
<td style="left:151.90px;top:0;width:145.10px;height:42.71px;">
<span class="t" style="left:27.05px;top:12.14px;font:normal 400 21.33px/21.33px 'Liberation Sans', sans-serif;color:#ff453a;transform:scaleX(1.0120);">-$79.48M</span>
</td>
<td style="left:297.00px;top:0;width:145.20px;height:42.71px;">
<span class="t" style="left:33.01px;top:12.14px;font:normal 400 21.33px/21.33px 'Liberation Sans', sans-serif;color:#dcdcdc;transform:scaleX(1.0120);">$11.91B</span>
</td>
<td style="left:442.20px;top:0;width:145.20px;height:42.71px;">
<span class="t" style="left:38.21px;top:12.14px;font:normal 400 21.33px/21.33px 'Liberation Sans', sans-serif;color:#dcdcdc;transform:scaleX(1.0120);">$2.27B</span>
</td>
<td style="left:587.40px;top:0;width:144.60px;height:42.71px;">
<span class="t" style="left:32.58px;top:12.14px;font:normal 400 21.33px/21.33px 'Liberation Sans', sans-serif;color:#dcdcdc;transform:scaleX(0.9950);">$12.71B</span>
</td>
</tr>
<tr style="top:535.45px">
<td style="left:7.00px;top:0;width:144.90px;height:42.71px;">
<span class="t" style="left:20.18px;top:12.14px;font:normal 400 21.33px/21.33px 'Liberation Sans', sans-serif;color:#dcdcdc;transform:scaleX(0.9620);">Feb 3,2026</span>
</td>
<td style="left:151.90px;top:0;width:145.10px;height:42.71px;">
<span class="t" style="left:30.64px;top:12.14px;font:normal 400 21.33px/21.33px 'Liberation Sans', sans-serif;color:#30d158;transform:scaleX(1.0120);">$14.06M</span>
</td>
<td style="left:297.00px;top:0;width:145.20px;height:42.71px;">
<span class="t" style="left:33.01px;top:12.14px;font:normal 400 21.33px/21.33px 'Liberation Sans', sans-serif;color:#dcdcdc;transform:scaleX(1.0120);">$11.99B</span>
</td>
<td style="left:442.20px;top:0;width:145.20px;height:42.71px;">
<span class="t" style="left:38.21px;top:12.14px;font:normal 400 21.33px/21.33px 'Liberation Sans', sans-serif;color:#dcdcdc;transform:scaleX(1.0120);">$2.77B</span>
</td>
<td style="left:587.40px;top:0;width:144.60px;height:42.71px;">
<span class="t" style="left:32.58px;top:12.14px;font:normal 400 21.33px/21.33px 'Liberation Sans', sans-serif;color:#dcdcdc;transform:scaleX(0.9950);">$13.39B</span>
</td>
</tr>
<tr style="top:578.16px">
<td style="left:7.00px;top:0;width:144.90px;height:42.71px;">
<span class="t" style="left:20.18px;top:12.14px;font:normal 400 21.33px/21.33px 'Liberation Sans', sans-serif;color:#dcdcdc;transform:scaleX(0.9620);">Feb 2,2026</span>
</td>
<td style="left:151.90px;top:0;width:145.10px;height:42.71px;">
<span class="t" style="left:33.05px;top:12.14px;font:normal 400 21.33px/21.33px 'Liberation Sans', sans-serif;color:#ff453a;transform:scaleX(1.0120);">-$2.86M</span>
</td>
<td style="left:297.00px;top:0;width:145.20px;height:42.71px;">
<span class="t" style="left:33.01px;top:12.14px;font:normal 400 21.33px/21.33px 'Liberation Sans', sans-serif;color:#dcdcdc;transform:scaleX(1.0120);">$11.97B</span>
</td>
<td style="left:442.20px;top:0;width:145.20px;height:42.71px;">
<span class="t" style="left:38.21px;top:12.14px;font:normal 400 21.33px/21.33px 'Liberation Sans', sans-serif;color:#dcdcdc;transform:scaleX(1.0120);">$2.70B</span>
</td>
<td style="left:587.40px;top:0;width:144.60px;height:42.71px;">
<span class="t" style="left:32.58px;top:12.14px;font:normal 400 21.33px/21.33px 'Liberation Sans', sans-serif;color:#dcdcdc;transform:scaleX(0.9950);">$13.69B</span>
</td>
</tr>
<tr style="top:620.87px">
<td style="left:7.00px;top:0;width:144.90px;height:42.71px;">
<span class="t" style="left:16.09px;top:12.14px;font:normal 400 21.33px/21.33px 'Liberation Sans', sans-serif;color:#dcdcdc;transform:scaleX(0.9620);">Jan 30,2026</span>
</td>
<td style="left:151.90px;top:0;width:145.10px;height:42.71px;">
<span class="t" style="left:21.04px;top:12.14px;font:normal 400 21.33px/21.33px 'Liberation Sans', sans-serif;color:#ff453a;transform:scaleX(1.0120);">-$252.87M</span>
</td>
<td style="left:297.00px;top:0;width:145.20px;height:42.71px;">
<span class="t" style="left:33.01px;top:12.14px;font:normal 400 21.33px/21.33px 'Liberation Sans', sans-serif;color:#dcdcdc;transform:scaleX(1.0120);">$11.97B</span>
</td>
<td style="left:442.20px;top:0;width:145.20px;height:42.71px;">
<span class="t" style="left:38.21px;top:12.14px;font:normal 400 21.33px/21.33px 'Liberation Sans', sans-serif;color:#dcdcdc;transform:scaleX(1.0120);">$1.80B</span>
</td>
<td style="left:587.40px;top:0;width:144.60px;height:42.71px;">
<span class="t" style="left:32.58px;top:12.14px;font:normal 400 21.33px/21.33px 'Liberation Sans', sans-serif;color:#dcdcdc;transform:scaleX(0.9950);">$15.86B</span>
</td>
</tr>
<tr style="top:663.58px">
<td style="left:7.00px;top:0;width:144.90px;height:42.71px;">
<span class="t" style="left:16.09px;top:12.14px;font:normal 400 21.33px/21.33px 'Liberation Sans', sans-serif;color:#dcdcdc;transform:scaleX(0.9620);">Jan 29,2026</span>
</td>
<td style="left:151.90px;top:0;width:145.10px;height:42.71px;">
<span class="t" style="left:21.04px;top:12.14px;font:normal 400 21.33px/21.33px 'Liberation Sans', sans-serif;color:#ff453a;transform:scaleX(1.0120);">-$155.61M</span>
</td>
<td style="left:297.00px;top:0;width:145.20px;height:42.71px;">
<span class="t" style="left:32.21px;top:12.14px;font:normal 400 21.33px/21.33px 'Liberation Sans', sans-serif;color:#dcdcdc;transform:scaleX(1.0120);">$12.23B</span>
</td>
<td style="left:442.20px;top:0;width:145.20px;height:42.71px;">
<span class="t" style="left:38.21px;top:12.14px;font:normal 400 21.33px/21.33px 'Liberation Sans', sans-serif;color:#dcdcdc;transform:scaleX(1.0120);">$2.15B</span>
</td>
<td style="left:587.40px;top:0;width:144.60px;height:42.71px;">
<span class="t" style="left:32.58px;top:12.14px;font:normal 400 21.33px/21.33px 'Liberation Sans', sans-serif;color:#dcdcdc;transform:scaleX(0.9950);">$16.75B</span>
</td>
</tr>
<tr style="top:706.29px">
<td style="left:7.00px;top:0;width:144.90px;height:42.71px;">
<span class="t" style="left:16.09px;top:12.14px;font:normal 400 21.33px/21.33px 'Liberation Sans', sans-serif;color:#dcdcdc;transform:scaleX(0.9620);">Jan 28,2026</span>
</td>
<td style="left:151.90px;top:0;width:145.10px;height:42.71px;">
<span class="t" style="left:30.64px;top:12.14px;font:normal 400 21.33px/21.33px 'Liberation Sans', sans-serif;color:#30d158;transform:scaleX(1.0120);">$28.10M</span>
</td>
<td style="left:297.00px;top:0;width:145.20px;height:42.71px;">
<span class="t" style="left:32.21px;top:12.14px;font:normal 400 21.33px/21.33px 'Liberation Sans', sans-serif;color:#dcdcdc;transform:scaleX(1.0120);">$12.38B</span>
</td>
<td style="left:442.20px;top:0;width:145.20px;height:42.71px;">
<span class="t" style="left:38.21px;top:12.14px;font:normal 400 21.33px/21.33px 'Liberation Sans', sans-serif;color:#dcdcdc;transform:scaleX(1.0120);">$1.09B</span>
</td>
<td style="left:587.40px;top:0;width:144.60px;height:42.71px;">
<span class="t" style="left:32.58px;top:12.14px;font:normal 400 21.33px/21.33px 'Liberation Sans', sans-serif;color:#dcdcdc;transform:scaleX(0.9950);">$18.22B</span>
</td>
</tr>
</tbody></table>
<svg class="abs" style="left:0;top:0" width="750" height="731" viewBox="770 130 750 731" fill="none"><g stroke="#353535" stroke-width="1.9"><path d="M921.9 140.3 V238.35"/><path d="M1066.5 140.3 V238.35"/><path d="M1211.2 140.3 V238.35"/><path d="M1356.1 140.3 V238.35"/><path d="M1501.8 140.3 V238.35"/><path d="M921.9 238.35 V870"/><path d="M1067.0 238.35 V870"/><path d="M1212.2 238.35 V870"/><path d="M1357.4 238.35 V870"/></g><g stroke="#3b3b3b" stroke-width="1.55"><path d="M777 141.0 H1502.7 M777 238.35 H1502.5"/><path d="M777 281.06 H1502.5"/><path d="M777 323.77 H1502.5"/><path d="M777 366.48 H1502.5"/><path d="M777 409.19 H1502.5"/><path d="M777 451.90 H1502.5"/><path d="M777 494.61 H1502.5"/><path d="M777 537.32 H1502.5"/><path d="M777 580.03 H1502.5"/><path d="M777 622.74 H1502.5"/><path d="M777 665.45 H1502.5"/><path d="M777 708.16 H1502.5"/><path d="M777 750.87 H1502.5"/><path d="M777 793.58 H1502.5"/><path d="M777 836.29 H1502.5"/><path d="M777 879.00 H1502.5"/><path d="M777 921.71 H1502.5"/></g></svg>
</div>
<div class="abs" style="left:1502.2px;top:140.2px;width:9.8px;height:30.6px;border-radius:5px;background:#5b5b5b"></div>
</section>
</body></html>
